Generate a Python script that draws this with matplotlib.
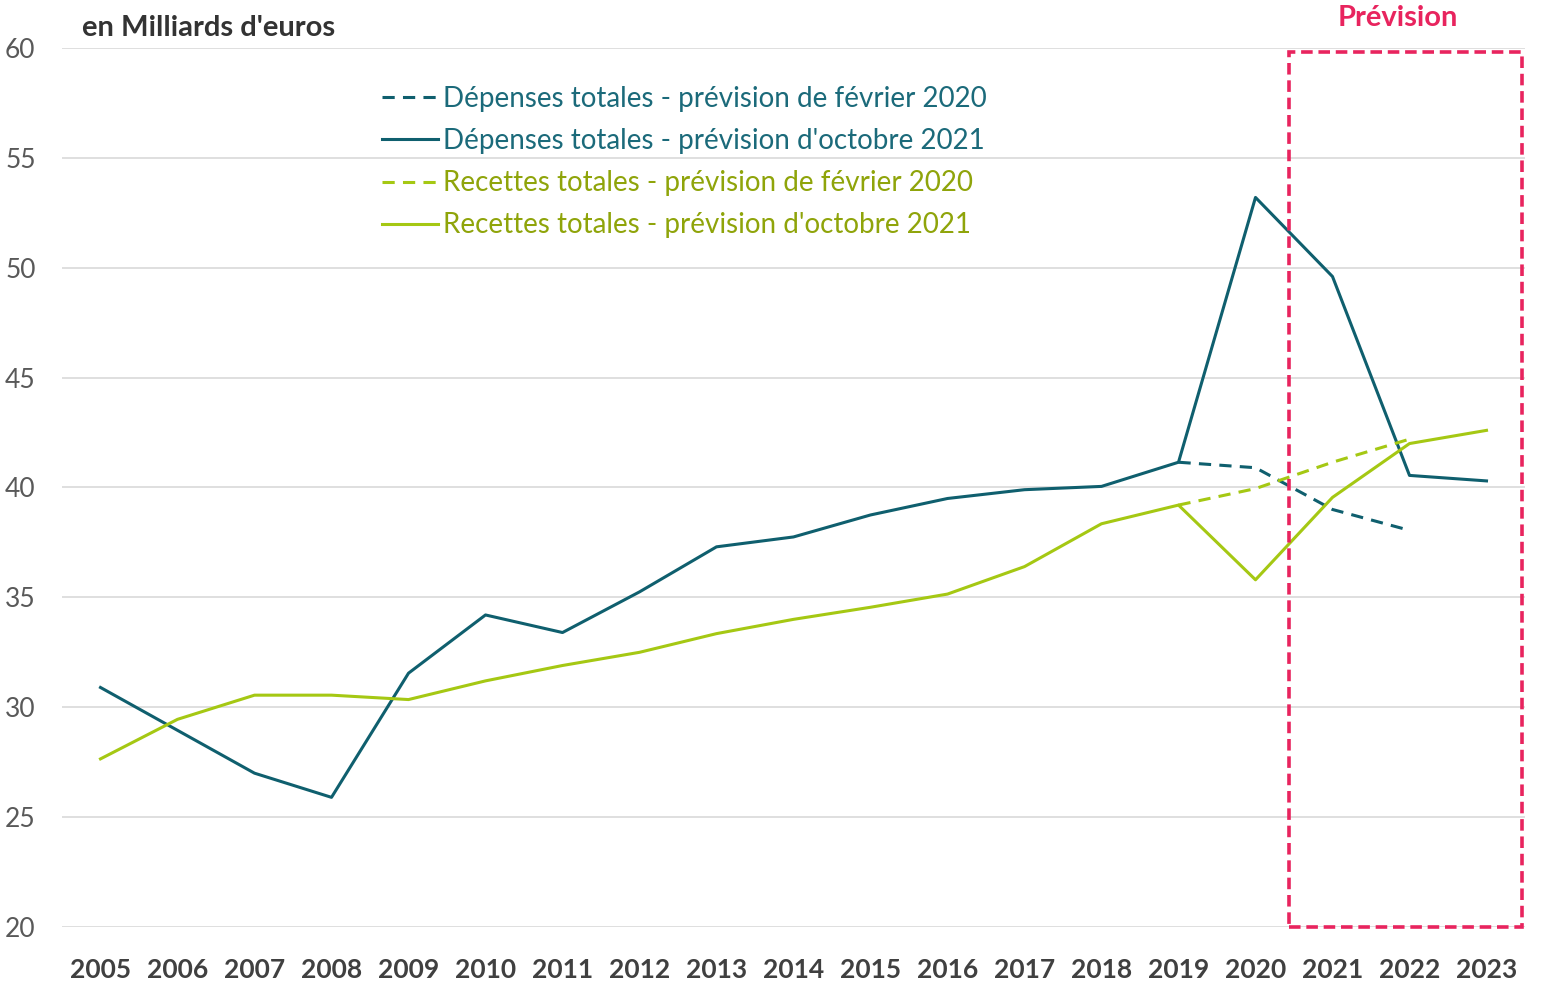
import matplotlib
matplotlib.use("Agg")
import matplotlib.pyplot as plt
from matplotlib.patches import Rectangle

plt.rcParams["font.family"] = ["Lato", "DejaVu Sans"]

years = list(range(2005, 2024))
year_labels = [str(y) for y in years]

# Dépenses totales - prévision d'octobre 2021
dep_oct21 = [30.9, 28.95, 27.0, 25.9, 31.55, 34.2, 33.4, 35.25, 37.3, 37.75,
             38.75, 39.5, 39.9, 40.05, 41.15, 53.2, 49.6, 40.55, 40.3]
# Dépenses totales - prévision de février 2020 (2019 -> 2022)
dep_fev20_years = [2019, 2020, 2021, 2022]
dep_fev20 = [41.15, 40.9, 39.0, 38.05]

# Recettes totales - prévision d'octobre 2021
rec_oct21 = [27.65, 29.45, 30.55, 30.55, 30.35, 31.2, 31.9, 32.5, 33.35, 34.0,
             34.55, 35.15, 36.4, 38.35, 39.2, 35.8, 39.55, 42.0, 42.6]
# Recettes totales - prévision de février 2020 (2019 -> 2022)
rec_fev20_years = [2019, 2020, 2021, 2022]
rec_fev20 = [39.2, 39.95, 41.15, 42.2]

yticks = [20, 25, 30, 35, 40, 45, 50, 55, 60]

TEAL = "#0F5F6E"
GREEN = "#A5C813"
PINK = "#E8245E"

x_all = [years.index(y) for y in years]
x_dep_fev = [years.index(y) for y in dep_fev20_years]
x_rec_fev = [years.index(y) for y in rec_fev20_years]

fig = plt.figure(figsize=(15.41, 9.99), dpi=100)
ax = fig.add_axes([62 / 1541, 1 - 927 / 999, (1525 - 62) / 1541, (927 - 48) / 999])

lw = 2.2
dash = (0, (4, 2.7))
l1, = ax.plot(x_dep_fev, dep_fev20, color=TEAL, lw=lw, linestyle=dash,
              label="Dépenses totales - prévision de février 2020")
l2, = ax.plot(x_all, dep_oct21, color=TEAL, lw=lw,
              label="Dépenses totales - prévision d'octobre 2021")
l3, = ax.plot(x_rec_fev, rec_fev20, color=GREEN, lw=lw, linestyle=dash,
              label="Recettes totales - prévision de février 2020")
l4, = ax.plot(x_all, rec_oct21, color=GREEN, lw=lw,
              label="Recettes totales - prévision d'octobre 2021")

ax.set_xlim(-0.5, len(years) - 0.5)
ax.set_ylim(20, 60)
ax.set_yticks(yticks)
ax.set_yticklabels([str(v) for v in yticks], fontsize=19, color="#595959")
ax.set_xticks(x_all)
ax.set_xticklabels(year_labels, fontsize=19, fontweight="bold", color="#404040")
ax.tick_params(axis="both", length=0)
ax.tick_params(axis="y", pad=19)
ax.tick_params(axis="x", pad=22)
ax.grid(axis="y", color="#D9D9D9", lw=1.2)
ax.set_axisbelow(True)
for s in ax.spines.values():
    s.set_visible(False)

# zone de prévision
rect = Rectangle((15.44, 19.98), 18.46 - 15.44, 59.8 - 19.98, fill=False,
                 edgecolor=PINK, lw=2.6, linestyle=(0, (3.2, 1.6)), clip_on=False,
                 zorder=5)
ax.add_patch(rect)
fig.text(1398 / 1541, 1 - 18 / 999, "Prévision", color=PINK, fontsize=21,
         fontweight="bold", ha="center", va="center")

fig.text(82 / 1541, 1 - 28 / 999, "en Milliards d'euros", color="#333333",
         fontsize=21, fontweight="bold", ha="left", va="center")

leg = ax.legend(handles=[l1, l2, l3, l4], loc="upper left",
                bbox_to_anchor=(382 / 1541, 1 - 86 / 999),
                bbox_transform=fig.transFigure, frameon=False, fontsize=20,
                handlelength=2.0, handletextpad=0.2, labelspacing=0.58,
                borderpad=0, borderaxespad=0)
for txt, c in zip(leg.get_texts(), ["#1B6A7A", "#1B6A7A", "#8FA40A", "#8FA40A"]):
    txt.set_color(c)

fig.savefig("out.png", dpi=100)
